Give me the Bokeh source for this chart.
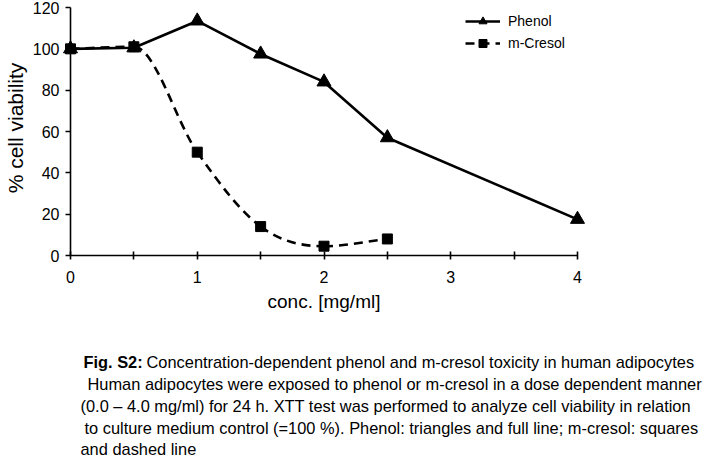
import numpy as np
from bokeh.plotting import figure
from bokeh.models import Range1d, FixedTicker, Legend, LegendItem
from bokeh.core.properties import value
from bokeh.embed import file_html
from bokeh.resources import INLINE

# ---- data ----
phenol_conc = [0.0, 0.5, 1.0, 1.5, 2.0, 2.5, 4.0]
phenol_viab = [100.0, 100.5, 113.5, 97.5, 84.0, 57.0, 17.5]
cresol_conc = [0.0, 0.5, 1.0, 1.5, 2.0, 2.5]
cresol_viab = [100.0, 101.0, 50.0, 14.0, 4.5, 8.0]
x_ticks = [0, 1, 2, 3, 4]
x_minor_ticks = [0.5, 1.5, 2.5, 3.5]
y_ticks = [0, 20, 40, 60, 80, 100, 120]
series_names = ["Phenol", "m-Cresol"]
x_title = "conc. [mg/ml]"
y_title = "% cell viability"
caption_bold = "Fig. S2:"
caption_lines = [
    "Concentration-dependent phenol and m-cresol toxicity in human adipocytes",
    "Human adipocytes were exposed to phenol or m-cresol in a dose dependent manner",
    "(0.0 \u2013 4.0 mg/ml) for 24 h. XTT test was performed to analyze cell viability in relation",
    "to culture medium control (=100 %). Phenol: triangles and full line; m-cresol: squares",
    "and dashed line",
]

FONT = "Liberation Sans"
W, H = 715, 459
FRAME_L, FRAME_R, FRAME_B = 70, 577, 255
Y_END = 120 * FRAME_B / 248.0

p = figure(width=W, height=H, output_backend="svg", toolbar_location=None,
           x_range=Range1d(0, 4), y_range=Range1d(0, Y_END),
           min_border_left=FRAME_L, min_border_right=W - FRAME_R,
           min_border_top=0, min_border_bottom=H - FRAME_B)
p.outline_line_color = None
p.grid.visible = False

xa = p.xaxis[0]
xa.ticker = FixedTicker(ticks=x_ticks, minor_ticks=x_minor_ticks)
xa.axis_label = x_title
xa.axis_label_text_font = FONT
xa.axis_label_text_font_size = "19px"
xa.axis_label_text_font_style = "normal"
xa.axis_label_text_color = "black"
xa.axis_label_standoff = 5
xa.major_label_text_font = FONT
xa.major_label_text_font_size = "16px"
xa.major_label_text_color = "black"
xa.major_label_standoff = 11
xa.major_tick_in = 4
xa.major_tick_out = 4
xa.minor_tick_in = 4
xa.minor_tick_out = 4
xa.axis_line_color = "black"
xa.axis_line_width = 1.6
xa.major_tick_line_color = "black"
xa.major_tick_line_width = 1.6
xa.minor_tick_line_color = "black"
xa.minor_tick_line_width = 1.6

ya = p.yaxis[0]
ya.ticker = FixedTicker(ticks=y_ticks, minor_ticks=[])
ya.bounds = (0, 120)
ya.axis_label = y_title
ya.axis_label_text_font = FONT
ya.axis_label_text_font_size = "21px"
ya.axis_label_text_font_style = "normal"
ya.axis_label_text_color = "black"
ya.axis_label_standoff = 3
ya.major_label_text_font = FONT
ya.major_label_text_font_size = "16px"
ya.major_label_text_color = "black"
ya.major_label_standoff = 6
ya.major_tick_in = 0
ya.major_tick_out = 5
ya.axis_line_color = "black"
ya.axis_line_width = 1.6
ya.major_tick_line_color = "black"
ya.major_tick_line_width = 1.6

# phenol: straight solid line with triangles
ph_line = p.line(phenol_conc, phenol_viab, line_color="black", line_width=2.6, level="overlay")
ph_pts = p.scatter(phenol_conc, phenol_viab, marker="triangle", size=14,
                   fill_color="black", line_color="black", level="overlay")

# m-cresol: smoothed dashed line (cubic Bezier through the points) with squares
xs = np.array(cresol_conc, dtype=float)
ys = np.array(cresol_viab, dtype=float)
n = len(xs)
slopes = np.diff(ys) / np.diff(xs)
tang = np.zeros(n)
for k in range(n):
    if k == 0:
        tang[k] = slopes[0]
    elif k == n - 1:
        tang[k] = slopes[-1]
    elif slopes[k - 1] * slopes[k] <= 0:
        tang[k] = 0.0
    else:
        tang[k] = (ys[k + 1] - ys[k - 1]) / (xs[k + 1] - xs[k - 1])
dx = np.diff(xs)
cx0 = xs[:-1] + dx / 3.0
cy0 = ys[:-1] + tang[:-1] * dx / 3.0
cx1 = xs[1:] - dx / 3.0
cy1 = ys[1:] - tang[1:] * dx / 3.0
cr_line = p.bezier(x0=xs[:-1], y0=ys[:-1], x1=xs[1:], y1=ys[1:],
                   cx0=cx0, cy0=cy0, cx1=cx1, cy1=cy1,
                   line_color="black", line_width=2.6, line_dash="9 6", level="overlay")
cr_pts = p.scatter(cresol_conc, cresol_viab, marker="square", size=10,
                   fill_color="black", line_color="black", level="overlay")

legend = Legend(items=[LegendItem(label=series_names[0], renderers=[ph_line, ph_pts]),
                       LegendItem(label=series_names[1], renderers=[cr_line, cr_pts])],
                location=(395, 202), orientation="vertical",
                glyph_width=35, glyph_height=20, label_height=20, label_standoff=8,
                spacing=2, padding=0, margin=0,
                label_text_font=FONT, label_text_font_size="14px", label_text_color="black",
                border_line_color=None, background_fill_alpha=0)
p.add_layout(legend, "center")

# caption below the chart: pixel positions converted through the chart's scales
ppu_x = (FRAME_R - FRAME_L) / 4.0
ppu_y = FRAME_B / Y_END
def dx_(px):
    return (px - FRAME_L) / ppu_x
def dy_(py):
    return (FRAME_B - py) / ppu_y

line_y = [361, 383, 405, 427, 448]
line_x = [146, 87, 80, 84, 80]
CAP_SIZE = "16.4px"
p.text(x=[dx_(83)], y=[dy_(line_y[0])], text=[caption_bold], text_font=value(FONT),
       text_font_size=CAP_SIZE, text_font_style="bold", text_baseline="middle",
       text_color="black", level="overlay")
p.text(x=[dx_(v) for v in line_x], y=[dy_(v) for v in line_y], text=caption_lines,
       text_font=value(FONT), text_font_size=CAP_SIZE, text_baseline="middle",
       text_color="black", level="overlay")

open("out.html", "w").write(file_html(p, INLINE))
